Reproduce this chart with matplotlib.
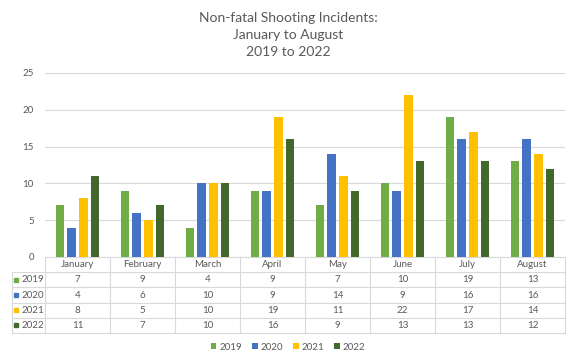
import matplotlib as mpl
import matplotlib.pyplot as plt
import numpy as np

# данные графика
months = ['January', 'February', 'March', 'April', 'May', 'June', 'July',
          'August']
years = ['2019', '2020', '2021', '2022']
v2019 = [7, 9, 4, 9, 7, 10, 19, 13]
v2020 = [4, 6, 10, 9, 14, 9, 16, 16]
v2021 = [8, 5, 10, 19, 11, 22, 17, 14]
v2022 = [11, 7, 10, 16, 9, 13, 13, 12]
series = [v2019, v2020, v2021, v2022]
colors = ['#70AD47', '#4472C4', '#FFC000', '#43682B']
yticks = [0, 5, 10, 15, 20, 25]
title = 'Non-fatal Shooting Incidents:\nJanuary to August\n2019 to 2022'

txt_color = '#595959'
line_color = '#D9D9D9'
mpl.rc('font', family=['Lato', 'DejaVu Sans'])

fig = plt.figure(figsize=(5.76, 3.59), dpi=100)

W, H = 576.0, 359.0
left, right = 45, 565
top, zero, tbl_bottom = 73, 257, 333

# оси со столбцами
ax = fig.add_axes([left / W, 1 - zero / H, (right - left) / W,
                   (zero - top) / H])
x = np.arange(len(months))
bw = 0.134
step = 0.18
for i, (vals, c) in enumerate(zip(series, colors)):
    ax.bar(x + (i - 1.5) * step, vals, width=bw, color=c, label=years[i],
           zorder=3)
ax.set_xlim(-0.5, len(months) - 0.5)
ax.set_ylim(0, 25)
ax.set_yticks(yticks)
ax.set_xticks([])
ax.yaxis.grid(True, color=line_color, lw=0.8, zorder=0)
for s in ['top', 'right', 'left']:
    ax.spines[s].set_visible(False)
ax.spines['bottom'].set_color(line_color)
ax.tick_params(axis='y', length=0, labelsize=7, labelcolor=txt_color, pad=8)

# таблица данных
tb = fig.add_axes([left / W, 1 - tbl_bottom / H, (right - left) / W,
                   (tbl_bottom - zero) / H])
tb.set_xlim(-0.5, len(months) - 0.5)
tb.set_ylim(5, 0)
tb.axis('off')
lab_left = -0.5 - (left - 12) / 65.0
for k in range(len(months) + 1):
    tb.plot([k - 0.5, k - 0.5], [0, 5], color=line_color, lw=0.8,
            clip_on=False)
tb.plot([lab_left, lab_left], [1, 5], color=line_color, lw=0.8,
        clip_on=False)
for r in range(1, 6):
    tb.plot([lab_left, len(months) - 0.5], [r, r], color=line_color, lw=0.8,
            clip_on=False)
for j, m in enumerate(months):
    tb.text(j, 0.5, m, ha='center', va='center', fontsize=7,
            color=txt_color)
for i, vals in enumerate(series):
    for j, v in enumerate(vals):
        tb.text(j, i + 1.5, str(v), ha='center', va='center', fontsize=7,
                color=txt_color)
    tb.plot([-0.94], [i + 1.5], marker='s', ms=3.5, color=colors[i],
            clip_on=False, lw=0)
    tb.text(-0.86, i + 1.5, years[i], ha='left', va='center', fontsize=7,
            color=txt_color, clip_on=False)

# заголовок
fig.text(0.5, 1 - 35 / H, title, ha='center', va='center', fontsize=10,
         color=txt_color, linespacing=1.5)

# легенда
fig.legend(loc='center', bbox_to_anchor=(0.5, 1 - 347 / H), ncol=4,
           frameon=False, fontsize=7, labelcolor=txt_color, handlelength=0.6,
           handleheight=0.6, handletextpad=0.3, columnspacing=1.0)

plt.savefig('out.png', dpi=100)
plt.close(fig)
